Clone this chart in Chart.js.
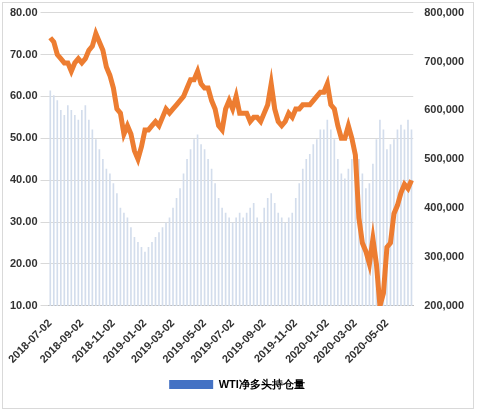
<!DOCTYPE html>
<html><head><meta charset="utf-8">
<script src="https://cdn.jsdelivr.net/npm/chart.js@4"></script>
<style>body{margin:0;background:#fff}#w{position:absolute;left:2px;top:2px;width:472px;height:407px;border:1px solid #d9d9d9;box-sizing:border-box}</style>
</head><body><div id="w"><canvas id="c"></canvas></div>
<script>
const months=[["2018-07",5],["2018-08",4],["2018-09",4],["2018-10",5],["2018-11",4],["2018-12",5],["2019-01",4],["2019-02",4],["2019-03",4],["2019-04",5],["2019-05",4],["2019-06",4],["2019-07",5],["2019-08",4],["2019-09",5],["2019-10",4],["2019-11",4],["2019-12",5],["2020-01",4],["2020-02",4],["2020-03",5],["2020-04",4],["2020-05",4],["2020-06",4]];
const tickMonths=["2018-07","2018-09","2018-11","2019-01","2019-03","2019-05","2019-07","2019-09","2019-11","2020-01","2020-03","2020-05"];
const labels=[];
months.forEach(([m,n])=>{for(let i=0;i<n;i++)labels.push(i===0?m+"-02":m+"-w"+i);});
const price=[74,73,70,69,68, 68,66,68,69, 68,69,71,72, 75,73,71,67,65, 62,57,56,51, 53,51,47,45,48, 52,52,53,54, 53,55,57,56, 57,58,59,60, 62,64,64,66,63, 62,62,59,57, 53,52,57,59, 57,60,56,56,56, 54,55,55,54, 56,58,63,57,54, 53,54,56,55, 57,57,58,58, 58,59,60,61,61, 63,58,57,53, 50,50,53,50, 46,31,25,23,20, 26,20,10,13, 24,25,32,34, 37,39,38,40];
const netLong=[640,630,620,600,590, 610,600,590,580, 600,610,580,560, 540,520,500,480,470, 450,430,400,390, 380,360,340,330,320, 310,320,330,340, 350,360,370,380, 400,420,440,470, 500,520,540,550,530, 520,500,480,450, 420,400,390,380, 370,380,390,380,390, 400,410,380,370, 400,420,430,410,390, 380,370,380,390, 420,450,480,500, 510,530,540,560,560, 580,560,540,500, 470,460,480,500, 520,500,470,440,450, 490,540,580,560, 520,530,540,560, 570,560,580,560].map(v=>v*1000);
const f={family:"Liberation Sans",size:11,weight:"bold"};
new Chart(document.getElementById('c'),{
data:{labels,datasets:[
{type:'line',label:'WTI',data:price,yAxisID:'y',borderColor:'#ED7D31',borderWidth:5,pointRadius:0,tension:0,order:0},
{type:'bar',label:'WTI净多头持仓量',data:netLong,yAxisID:'y1',backgroundColor:'#D3DDEC',borderWidth:0,barThickness:1,order:1}
]},
options:{responsive:true,maintainAspectRatio:false,animation:false,
layout:{padding:{left:4,right:6,top:8,bottom:8}},
plugins:{legend:{position:'bottom',labels:{font:f,color:'#333',boxWidth:44,boxHeight:9,generateLabels:ch=>[{text:'WTI净多头持仓量',fillStyle:'#4472C4',strokeStyle:'#4472C4',lineWidth:0,datasetIndex:1}]}},tooltip:{enabled:false}},
scales:{
x:{grid:{display:false},border:{color:'#bfbfbf'},ticks:{autoSkip:false,maxRotation:45,minRotation:45,font:f,color:'#333',callback:function(v){const l=this.getLabelForValue(v);return tickMonths.includes(l.slice(0,7))&&l.endsWith('-02')?l:null;}}},
y:{position:'left',min:10,max:80,ticks:{stepSize:10,font:f,color:'#333',callback:v=>v.toFixed(2)},grid:{color:'#d9d9d9'},border:{display:false}},
y1:{position:'right',min:200000,max:800000,ticks:{stepSize:100000,font:f,color:'#333',callback:v=>v.toLocaleString('en-US')},grid:{display:false},border:{display:false}}
}}});
</script></body></html>
